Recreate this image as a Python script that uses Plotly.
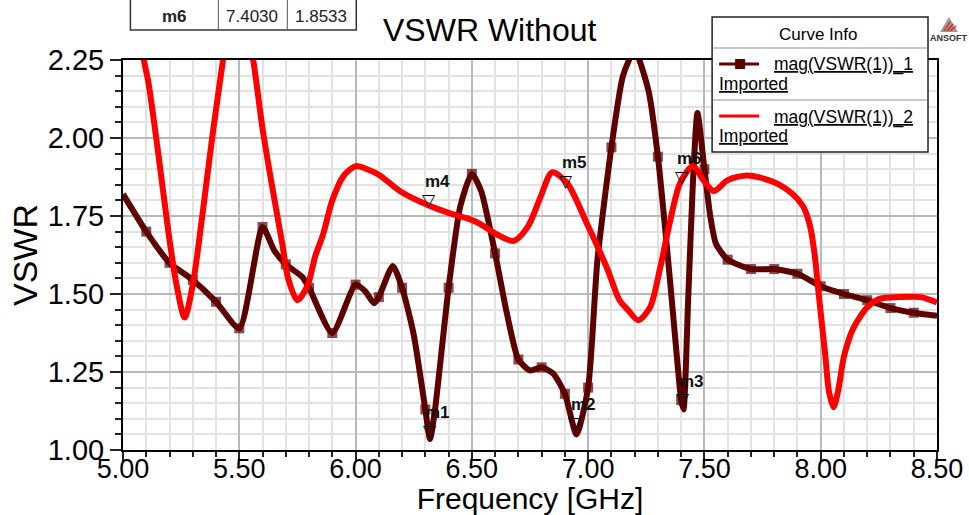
import plotly.graph_objects as go

# ---------------- data ----------------
freq_1 = [5.00, 5.10, 5.20, 5.30, 5.40, 5.50, 5.60, 5.65, 5.70, 5.77, 5.80, 5.90, 6.00, 6.04, 6.08,
          6.10, 6.16, 6.20, 6.25, 6.30, 6.32, 6.34, 6.40, 6.45, 6.50, 6.54, 6.60, 6.65, 6.70, 6.75,
          6.80, 6.85, 6.90, 6.95, 7.00, 7.04, 7.10, 7.15, 7.20, 7.26, 7.30, 7.35, 7.385, 7.40, 7.41,
          7.43, 7.45, 7.47, 7.50, 7.525, 7.55, 7.60, 7.70, 7.80, 7.90, 8.00, 8.10, 8.20, 8.30, 8.40, 8.50]
vswr_1 = [1.82, 1.70, 1.60, 1.545, 1.475, 1.39, 1.715, 1.64, 1.595, 1.555, 1.52, 1.375, 1.53, 1.51, 1.47,
          1.49, 1.59, 1.52, 1.37, 1.13, 1.035, 1.12, 1.52, 1.78, 1.885, 1.83, 1.63, 1.44, 1.29, 1.255,
          1.265, 1.245, 1.18, 1.05, 1.20, 1.61, 1.97, 2.20, 2.28, 2.15, 1.94, 1.56, 1.27, 1.16, 1.13,
          1.48, 1.85, 2.08, 1.90, 1.75, 1.66, 1.61, 1.58, 1.58, 1.565, 1.525, 1.50, 1.48, 1.455, 1.44, 1.43]

freq_2 = [5.05, 5.09, 5.11, 5.15, 5.195, 5.23, 5.265, 5.30, 5.34, 5.385, 5.43, 5.49, 5.56, 5.60, 5.64,
          5.685, 5.71, 5.75, 5.795, 5.826, 5.86, 5.90, 5.95, 6.00, 6.05, 6.105, 6.19, 6.31, 6.40, 6.49,
          6.535, 6.61, 6.68, 6.74, 6.795, 6.845, 6.91, 6.995, 7.08, 7.135, 7.17, 7.215, 7.266, 7.31, 7.35,
          7.395, 7.45, 7.495, 7.54, 7.60, 7.685, 7.795, 7.88, 7.925, 7.955, 7.975, 7.99, 8.005, 8.02, 8.035,
          8.055, 8.075, 8.10, 8.14, 8.20, 8.255, 8.34, 8.43, 8.50]
vswr_2 = [2.50, 2.25, 2.175, 1.96, 1.70, 1.53, 1.425, 1.53, 1.745, 2.01, 2.25, 2.55, 2.25, 2.03, 1.85,
          1.66, 1.55, 1.48, 1.53, 1.62, 1.69, 1.80, 1.88, 1.91, 1.90, 1.88, 1.83, 1.785, 1.76, 1.74,
          1.725, 1.69, 1.67, 1.715, 1.81, 1.89, 1.855, 1.725, 1.585, 1.48, 1.45, 1.416, 1.457, 1.585, 1.725,
          1.855, 1.91, 1.865, 1.83, 1.865, 1.88, 1.86, 1.82, 1.78, 1.715, 1.62, 1.51, 1.405, 1.30, 1.19,
          1.137, 1.19, 1.30, 1.39, 1.457, 1.485, 1.49, 1.49, 1.473]

marker_names = ["m1", "m2", "m3", "m4", "m5", "m6"]
marker_freq = [6.32, 6.945, 7.408, 6.317, 6.905, 7.403]
marker_vswr = [1.04, 1.065, 1.14, 1.78, 1.84, 1.8533]

x_ticks = [5.00, 5.50, 6.00, 6.50, 7.00, 7.50, 8.00, 8.50]
y_ticks = [1.00, 1.25, 1.50, 1.75, 2.00, 2.25]

series_names = ["mag(VSWR(1))_1", "mag(VSWR(1))_2"]
table_row = ["m6", "7.4030", "1.8533"]

# ---------------- layout helpers ----------------
W, H = 969, 515
L, R, T, B = 122.6, 32, 60, 65
PW, PH = W - L - R, H - T - B
def xp(px):
    return (px - L) / PW
def yp(py):
    return (H - B - py) / PH

FONT = "Arial, Liberation Sans, sans-serif"
DARK = "#5c0000"
RED = "#ff0000"

# dark-curve square markers every 0.1 GHz
msize_1 = [10 if (abs(f * 10 - round(f * 10)) < 1e-6 and 5.05 < f < 8.45) else 0 for f in freq_1]

fig = go.Figure()
fig.add_trace(go.Scatter(
    x=freq_1, y=vswr_1, mode="lines+markers", name=series_names[0],
    line=dict(color=DARK, width=6, shape="spline", smoothing=0.6),
    marker=dict(symbol="square", size=msize_1, color=DARK, line=dict(width=0)),
    showlegend=False, hoverinfo="skip"))
fig.add_trace(go.Scatter(
    x=freq_2, y=vswr_2, mode="lines", name=series_names[1],
    line=dict(color=RED, width=6, shape="spline", smoothing=0.8),
    showlegend=False, hoverinfo="skip"))

ann = []
# marker triangles and labels
for n, fx, fy in zip(marker_names, marker_freq, marker_vswr):
    ann.append(dict(x=fx, y=fy, xref="x", yref="y", text="▽", showarrow=False,
                    font=dict(family="DejaVu Sans", size=17, color="black"),
                    yanchor="middle", yshift=7))
    ann.append(dict(x=fx, y=fy, xref="x", yref="y", text="<b>%s</b>" % n, showarrow=False,
                    font=dict(family=FONT, size=17, color="#111111"),
                    xanchor="center", yanchor="middle", xshift=8, yshift=25))

# title
ann.append(dict(x=xp(489), y=yp(30), xref="paper", yref="paper", text="VSWR Without", showarrow=False,
                font=dict(family=FONT, size=32, color="black"), xanchor="center", yanchor="middle"))

shapes = []
# top-left marker table (cut off at top)
shapes.append(dict(type="path", xref="paper", yref="paper",
                   path="M %f %f L %f %f L %f %f L %f %f" % (xp(130), yp(-2), xp(130), yp(30), xp(356), yp(30), xp(356), yp(-2)),
                   line=dict(color="#333333", width=1.5)))
for vx in (218, 287):
    shapes.append(dict(type="line", xref="paper", yref="paper", x0=xp(vx), x1=xp(vx), y0=yp(-2), y1=yp(30),
                       line=dict(color="#555555", width=1)))
for txt, cx, bold in zip(table_row, (174, 252, 321), (True, False, False)):
    ann.append(dict(x=xp(cx), y=yp(17), xref="paper", yref="paper",
                    text=("<b>%s</b>" % txt) if bold else txt, showarrow=False,
                    font=dict(family=FONT, size=17, color="#222222"), xanchor="center", yanchor="middle"))

# legend box (Curve Info)
shapes.append(dict(type="rect", xref="paper", yref="paper", x0=xp(712), x1=xp(928), y0=yp(152), y1=yp(17),
                   fillcolor="white", line=dict(color="#222222", width=1.5), layer="above"))
for sy in (48, 100):
    shapes.append(dict(type="line", xref="paper", yref="paper", x0=xp(713), x1=xp(927), y0=yp(sy), y1=yp(sy),
                       line=dict(color="#c8c8c8", width=2), layer="above"))
ann.append(dict(x=xp(818), y=yp(34), xref="paper", yref="paper", text="Curve Info", showarrow=False,
                font=dict(family=FONT, size=17, color="black"), xanchor="center", yanchor="middle"))
for i, (nm, col) in enumerate(zip(series_names, (DARK, RED))):
    ly = 64 + i * 52
    shapes.append(dict(type="line", xref="paper", yref="paper", x0=xp(719), x1=xp(759), y0=yp(ly), y1=yp(ly),
                       line=dict(color=col, width=3), layer="above"))
    if i == 0:
        shapes.append(dict(type="rect", xref="paper", yref="paper", x0=xp(735), x1=xp(745), y0=yp(ly + 5), y1=yp(ly - 5),
                           fillcolor=DARK, line=dict(width=0), layer="above"))
    ann.append(dict(x=xp(772), y=yp(ly + 1), xref="paper", yref="paper", text=nm, showarrow=False,
                    font=dict(family=FONT, size=17.5, color="black", lineposition="under"),
                    xanchor="left", yanchor="middle"))
    ann.append(dict(x=xp(717), y=yp(ly + 20), xref="paper", yref="paper", text="Imported", showarrow=False,
                    font=dict(family=FONT, size=17.5, color="black", lineposition="under"),
                    xanchor="left", yanchor="middle"))

# ANSOFT logo
shapes.append(dict(type="path", xref="paper", yref="paper",
                   path="M %f %f L %f %f L %f %f Z" % (xp(949), yp(17), xp(940), yp(32), xp(958), yp(32)),
                   fillcolor="#9a9a9a", line=dict(width=0), layer="above"))
for k in range(3):
    shapes.append(dict(type="line", xref="paper", yref="paper",
                       x0=xp(944 + 3 * k), x1=xp(950 + 3 * k), y0=yp(31), y1=yp(22 + 2 * k),
                       line=dict(color="#e0201a", width=1.3), layer="above"))
ann.append(dict(x=xp(949), y=yp(38), xref="paper", yref="paper", text="<b>ANSOFT</b>", showarrow=False,
                font=dict(family=FONT, size=9, color="#333333"), xanchor="center", yanchor="middle"))

axis_common = dict(showline=True, linecolor="black", linewidth=2, mirror=True, zeroline=False, automargin=False)

fig.update_layout(
    width=W, height=H,
    margin=dict(l=L, r=R, t=T, b=B, pad=0, autoexpand=False),
    paper_bgcolor="white", plot_bgcolor="white",
    showlegend=False,
    xaxis=dict(range=[5.0, 8.5], tickvals=x_ticks, ticktext=["%.2f" % v for v in x_ticks],
               ticks="outside", ticklen=9, tickwidth=1.5, tickcolor="#222222", ticklabelstandoff=-15,
               showgrid=True, gridcolor="#b9b9b9", gridwidth=2,
               minor=dict(dtick=0.1, tick0=5.0, ticks="outside", ticklen=5, tickcolor="#222222",
                          showgrid=True, gridcolor="#e2e2e2", gridwidth=2),
               tickfont=dict(family=FONT, size=27, color="black"),
               title=dict(text="Frequency [GHz]", font=dict(family=FONT, size=30, color="black"), standoff=7),
               **axis_common),
    yaxis=dict(range=[1.0, 2.25], tickvals=y_ticks, ticktext=["%.2f" % v for v in y_ticks],
               ticks="outside", ticklen=11, tickwidth=1.5, tickcolor="#222222",
               showgrid=True, gridcolor="#b9b9b9", gridwidth=2,
               minor=dict(dtick=0.05, tick0=1.0, ticks="outside", ticklen=6, tickcolor="#222222",
                          showgrid=True, gridcolor="#e2e2e2", gridwidth=2),
               tickfont=dict(family=FONT, size=29, color="black"),
               title=dict(text="VSWR", font=dict(family=FONT, size=34, color="black"), standoff=0),
               **axis_common),
    xaxis2=dict(overlaying="x", anchor="y", side="bottom", range=[5.0, 8.5], tickvals=x_ticks,
                showticklabels=False, ticks="inside", ticklen=7, tickwidth=1.5, tickcolor="#222222",
                showgrid=False, zeroline=False, automargin=False,
                minor=dict(dtick=0.1, tick0=5.0, ticks="inside", ticklen=5, tickcolor="#222222", showgrid=False)),
    yaxis2=dict(overlaying="y", anchor="x", side="left", range=[1.0, 2.25], tickvals=y_ticks,
                showticklabels=False, ticks="inside", ticklen=10, tickwidth=1.5, tickcolor="#222222",
                showgrid=False, zeroline=False, automargin=False,
                minor=dict(dtick=0.05, tick0=1.0, ticks="inside", ticklen=5, tickcolor="#222222", showgrid=False)),
    annotations=ann,
    shapes=shapes,
)

fig.write_html("out.html")
